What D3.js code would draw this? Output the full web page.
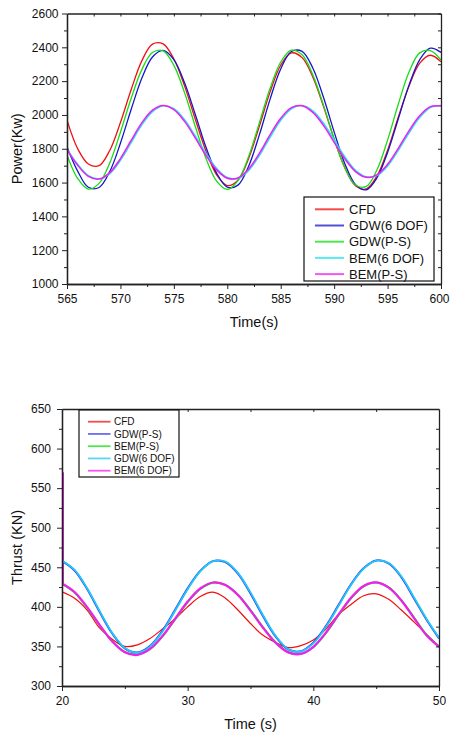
<!DOCTYPE html>
<html>
<head>
<meta charset="utf-8">
<script src="https://cdn.jsdelivr.net/npm/d3@7"></script>
<style>
  body { margin: 0; background: #fff; }
  text { font-family: "Liberation Sans", Arial, sans-serif; fill: #111; }
</style>
</head>
<body>
<div id="chart"></div>
<script>
// ---- data ----
const powerTime = [565,566,567,568,569,570,571,572,573,574,575,576,577,578,579,580,581,582,
  583,584,585,586,587,588,589,590,591,592,593,594,595,596,597,598,599,600];
const cfdPower = [1969,1800,1710,1700,1790,1955,2149,2320,2419,2420,2331,2172,1976,1787,1646,1582,1614,1743,
  1933,2135,2294,2367,2339,2225,2051,1857,1688,1581,1562,1638,1792,1986,2170,2305,2353,2314];
const gdwSixPower = [1811,1668,1572,1571,1665,1833,2032,2217,2343,2382,2327,2190,2004,1810,1656,1573,1585,1697,
  1882,2092,2272,2375,2376,2278,2105,1900,1712,1588,1557,1627,1778,1976,2175,2326,2395,2370];
const gdwPsPower = [1762,1624,1561,1595,1716,1898,2097,2268,2369,2379,2293,2132,1933,1744,1609,1560,1612,1755,
  1953,2156,2313,2383,2356,2237,2058,1859,1688,1586,1577,1674,1851,2063,2252,2367,2381,2325];
const bemSixPower = [1798,1708,1641,1622,1653,1731,1836,1941,2020,2054,2037,1972,1876,1773,1684,1630,1624,1672,
  1760,1868,1969,2036,2056,2024,1951,1852,1752,1673,1634,1641,1698,1790,1893,1985,2044,2056];
const bemPsPower = [1795,1702,1637,1621,1659,1742,1849,1953,2028,2056,2031,1962,1864,1761,1675,1626,1627,1680,
  1773,1882,1980,2043,2054,2015,1938,1838,1740,1665,1631,1646,1708,1802,1906,1995,2049,2053];

const thrustTime = [20,21,22,23,24,25,26,27,28,29,30,31,32,33,34,35,36,37,38,39,40,41,42,43,44,45,46,47,48,49,50];
const cfdThrust = [419,411,396,373,359,350,352,360,372,385,400,413,418.5,411,396,379,364,355,348.5,351,358,
  372,390,403,414,416.5,409.5,396,381,365.5,349.7];
const gdwPsThrust = [457.8,446.0,422.5,393.5,366.3,347.6,342.3,350.5,370.0,396.2,423.4,445.5,457.8,456.6,442.0,
  417.0,388.2,362.5,346.2,344.0,354.8,375.6,402.2,428.6,448.8,458.6,454.8,437.6,411.0,384,360.2];
const bemPsThrust = [429.2,418.2,399.0,376.6,356.4,343.2,339.8,346.4,362.6,384.2,406.0,422.6,430.6,427.8,415.3,
  395.9,374.2,355.3,343.0,340.6,349.0,366.8,389.4,410.8,426.0,430.8,424.6,408.6,386.8,364.8,350.2];
const gdwSixThrust = [458.3,446.8,423.6,394.6,367.1,348.0,342.0,349.8,368.9,395.0,422.3,444.7,457.4,457.1,443.0,
  418.3,389.4,363.3,346.5,343.6,353.8,374.4,401,427.6,448.2,458.4,455.4,438.6,412.2,385,361];
const bemSixThrust = [429.6,418.8,399.6,377.0,356.3,342.7,339.2,346.8,363.3,385,406.7,423.2,430.8,427.6,414.9,
  395.3,373.5,354.6,342.5,340.5,349.5,367.5,390.1,411.5,426.4,430.9,424.3,408,386.1,364,349.5];
const bemSixSpike = 570;   // first sample of BEM(6 DOF) in the thrust plot

const powerTicksX = [565,570,575,580,585,590,595,600];
const powerTicksY = [1000,1200,1400,1600,1800,2000,2200,2400,2600];
const thrustTicksX = [20,30,40,50];
const thrustTicksY = [300,350,400,450,500,550,600,650];

const powerNames = ["CFD","GDW(6 DOF)","GDW(P-S)","BEM(6 DOF)","BEM(P-S)"];
const thrustNames = ["CFD","GDW(P-S)","BEM(P-S)","GDW(6 DOF)","BEM(6 DOF)"];

const svg = d3.select("#chart")
  .append("svg")
    .attr("width", 450)
    .attr("height", 735);

function drawPanel(p) {
  const x = d3.scaleLinear().domain(p.xDomain).range([p.left, p.right]);
  const y = d3.scaleLinear().domain(p.yDomain).range([p.bottom, p.top]);
  const g = svg.append("g");

  g.append("clipPath").attr("id", p.id)
    .append("rect")
      .attr("x", p.left).attr("y", p.top)
      .attr("width", p.right - p.left).attr("height", p.bottom - p.top);

  const line = d3.line()
    .x((d, i) => x(p.time[i]))
    .y(d => y(d))
    .curve(d3.curveCatmullRom.alpha(0.5));

  const plot = g.append("g").attr("clip-path", "url(#" + p.id + ")");
  if (p.spike) {
    plot.append("line")
      .attr("x1", x(p.time[0]) + 1).attr("x2", x(p.time[0]) + 1)
      .attr("y1", y(p.spike.value)).attr("y2", y(p.series[p.spike.index][0]))
      .attr("stroke", p.colors[p.spike.index]).attr("stroke-width", 2);
  }
  p.series.forEach((s, i) => {
    plot.append("path")
      .attr("d", line(s))
      .attr("fill", "none")
      .attr("stroke", p.colors[i])
      .attr("stroke-width", p.widths[i]);
  });

  // minor tick values halfway between majors
  const minorX = p.ticksX.slice(1).map((v, i) => (v + p.ticksX[i]) / 2);
  const minorY = p.ticksY.slice(1).map((v, i) => (v + p.ticksY[i]) / 2);

  const axisStyle = sel => {
    sel.select(".domain").attr("stroke", "#222").attr("stroke-width", 1.3);
    sel.selectAll(".tick line").attr("stroke", "#222").attr("stroke-width", 1);
    sel.selectAll("text").style("font-size", "12px").attr("fill", "#111");
  };

  // bottom / left: outward ticks with labels
  const xAxis = g.append("g").attr("transform", "translate(0," + p.bottom + ")")
    .call(d3.axisBottom(x).tickValues(p.ticksX).tickFormat(d3.format("d"))
      .tickSize(5).tickPadding(5.5).tickSizeOuter(0))
    .call(axisStyle);
  // keep the last label inside the window
  xAxis.selectAll(".tick text").filter(d => d === p.xDomain[1]).attr("dx", p.lastShift);
  g.append("g").attr("transform", "translate(0," + p.bottom + ")")
    .call(d3.axisBottom(x).tickValues(minorX).tickSize(3).tickFormat("").tickSizeOuter(0))
    .call(axisStyle);
  g.append("g").attr("transform", "translate(" + p.left + ",0)")
    .call(d3.axisLeft(y).tickValues(p.ticksY).tickFormat(d3.format("d"))
      .tickSize(5).tickPadding(p.padY).tickSizeOuter(0))
    .call(axisStyle);
  g.append("g").attr("transform", "translate(" + p.left + ",0)")
    .call(d3.axisLeft(y).tickValues(minorY).tickSize(3).tickFormat("").tickSizeOuter(0))
    .call(axisStyle);

  // top / right: mirrored inward ticks
  g.append("g").attr("transform", "translate(0," + p.top + ")")
    .call(d3.axisBottom(x).tickValues(p.topTicks).tickSize(3).tickFormat("").tickSizeOuter(0))
    .call(axisStyle);
  g.append("g").attr("transform", "translate(" + p.right + ",0)")
    .call(d3.axisLeft(y).tickValues(p.ticksY.concat(minorY)).tickSize(3).tickFormat("").tickSizeOuter(0))
    .call(axisStyle);

  // axis titles
  g.append("text")
    .attr("x", (p.left + p.right) / 2).attr("y", p.titleY)
    .attr("text-anchor", "middle")
    .style("font-size", "14.5px")
    .text(p.xTitle);
  g.append("text")
    .attr("transform", "translate(21.5," + (p.top + p.bottom) / 2 + ") rotate(-90)")
    .attr("text-anchor", "middle")
    .style("font-size", "14.5px")
    .text(p.yTitle);

  // legend
  const L = p.legend;
  g.append("rect")
    .attr("x", L.x).attr("y", L.y).attr("width", L.w).attr("height", L.h)
    .attr("fill", "#fff").attr("stroke", "#111").attr("stroke-width", 1.2);
  p.names.forEach((name, i) => {
    const cy = L.y0 + i * L.step;
    g.append("line")
      .attr("x1", L.lx1).attr("x2", L.lx2).attr("y1", cy).attr("y2", cy)
      .attr("stroke", p.colors[i]).attr("stroke-width", L.lw).attr("stroke-opacity", 0.75);
    g.append("text")
      .attr("x", L.tx).attr("y", cy)
      .attr("dy", "0.36em")
      .style("font-size", L.fs + "px")
      .text(name);
  });
}

drawPanel({
  id: "clipPower",
  left: 67, right: 441, top: 13.5, bottom: 284,
  xDomain: [565, 600], yDomain: [1000, 2600],
  time: powerTime,
  series: [cfdPower, gdwSixPower, gdwPsPower, bemSixPower, bemPsPower],
  colors: ["#f01010", "#1616c8", "#16dd16", "#22e0f0", "#f01ef0"],
  widths: [1.3, 1.3, 1.3, 1.5, 1.5],
  names: powerNames,
  ticksX: powerTicksX, ticksY: powerTicksY,
  topTicks: [567.5,570,572.5,575,577.5,580,582.5,585,587.5,590,592.5,595,597.5],
  padY: 3.5, lastShift: -2,
  titleY: 327, xTitle: "Time(s)", yTitle: "Power(Kw)",
  legend: {x: 304, y: 197, w: 130, h: 84, y0: 209.3, step: 16.2,
           lx1: 315, lx2: 344, tx: 349, fs: 13, lw: 2}
});

drawPanel({
  id: "clipThrust",
  left: 62, right: 439, top: 409, bottom: 686,
  xDomain: [20, 50], yDomain: [300, 650],
  time: thrustTime,
  series: [cfdThrust, gdwPsThrust, bemPsThrust, gdwSixThrust, bemSixThrust],
  colors: ["#f01010", "#3a3af0", "#16dd16", "#1ec8f8", "#f01ef0"],
  widths: [1.2, 2, 2, 1.8, 2.2],
  spike: {index: 4, value: bemSixSpike},
  names: thrustNames,
  ticksX: thrustTicksX, ticksY: thrustTicksY,
  topTicks: [25,30,35,40,45],
  padY: 6, lastShift: 0,
  titleY: 729, xTitle: "Time (s)", yTitle: "Thrust (KN)",
  legend: {x: 79, y: 410, w: 100, h: 67, y0: 421.7, step: 12.25,
           lx1: 88, lx2: 110.5, tx: 114, fs: 10, lw: 1.8}
});
</script>
</body>
</html>
